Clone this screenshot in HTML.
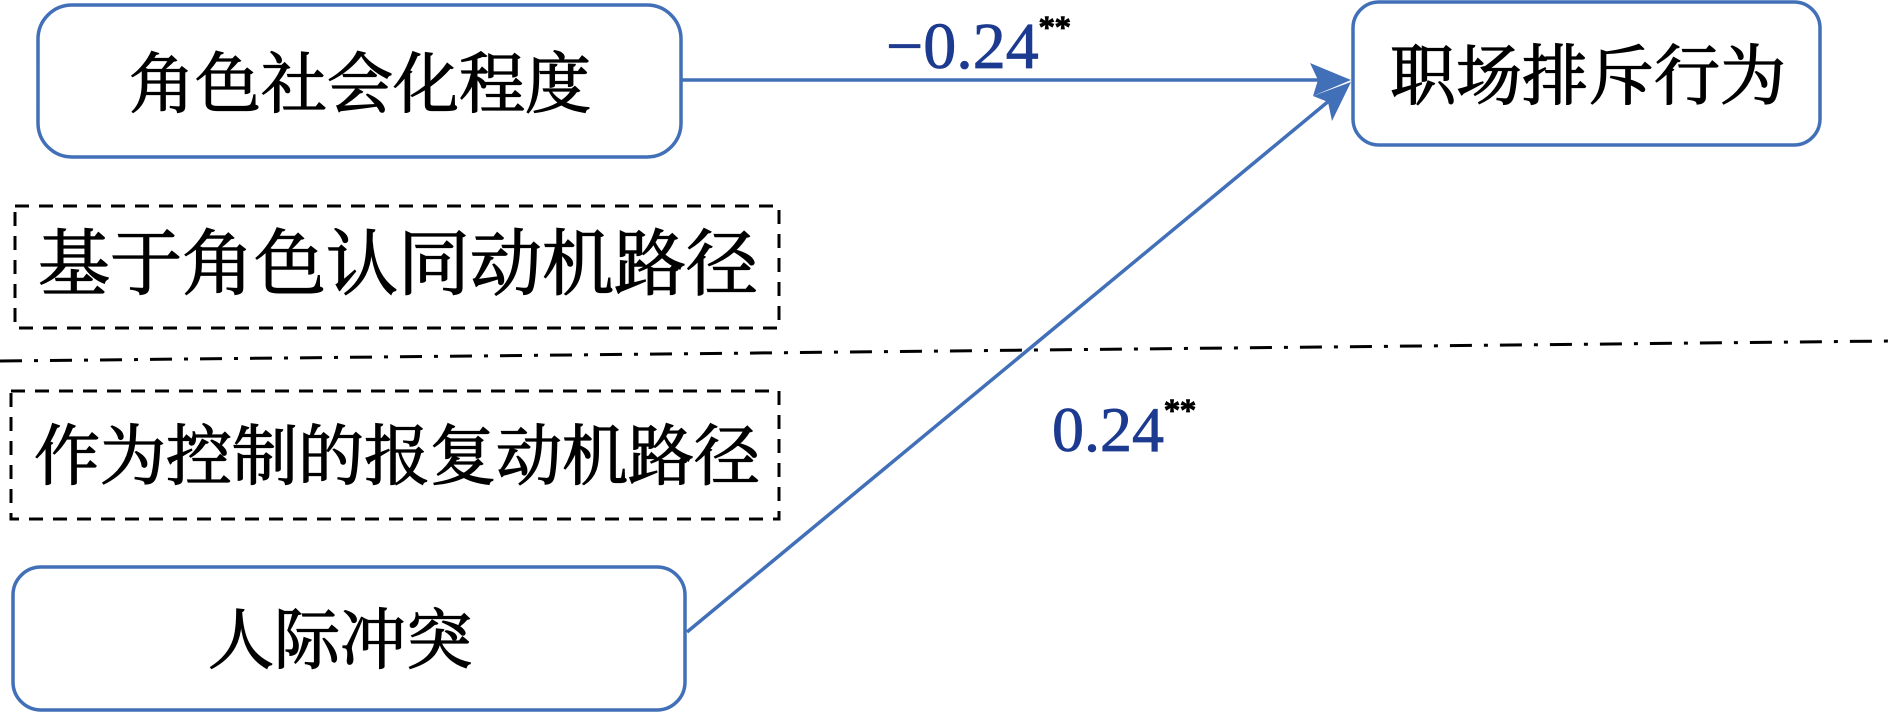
<!DOCTYPE html>
<html><head><meta charset="utf-8"><style>
html,body{margin:0;padding:0;background:#fff;}
svg{display:block;}
.cj{font-family:"Liberation Serif","Noto Serif CJK SC",serif;fill:#000;stroke:#000;stroke-width:1.3;}
.num{font-family:"Liberation Serif",serif;fill:#1c3a8f;stroke:#1c3a8f;stroke-width:0.8;}
</style></head><body>
<svg width="1890" height="712" viewBox="0 0 1890 712" xmlns="http://www.w3.org/2000/svg">
<!-- boxes -->
<rect x="38" y="5" width="643" height="152" rx="34" fill="#fff" stroke="#4170b8" stroke-width="3.5"/>
<rect x="1353" y="2" width="467" height="143" rx="26" fill="#fff" stroke="#4170b8" stroke-width="3.5"/>
<rect x="13" y="567" width="672" height="143" rx="28" fill="#fff" stroke="#4170b8" stroke-width="3.5"/>
<rect x="15" y="206" width="764" height="122" fill="none" stroke="#000" stroke-width="3" stroke-dasharray="14,10"/>
<rect x="11" y="391" width="768" height="128" fill="none" stroke="#000" stroke-width="3" stroke-dasharray="14,10"/>
<!-- dash-dot line -->
<line x1="0" y1="361" x2="1890" y2="341" stroke="#000" stroke-width="3" stroke-dasharray="22,12,4,12"/>
<!-- connectors -->
<line x1="681" y1="80" x2="1330" y2="80" stroke="#4170b8" stroke-width="3.5"/>
<line x1="687" y1="632" x2="1330" y2="100" stroke="#4170b8" stroke-width="3.5"/>
<polygon points="1351,80 1310,63 1318,80 1313,96" fill="#4170b8"/>
<polygon points="1351,82 1313,96 1328,102 1332,121" fill="#4170b8"/>
<!-- text -->
<text class="cj" x="360" y="107" font-size="66" text-anchor="middle">角色社会化程度</text>
<text class="cj" x="1588" y="99" font-size="66" text-anchor="middle">职场排斥行为</text>
<text class="cj" x="398" y="289" font-size="72" text-anchor="middle">基于角色认同动机路径</text>
<text class="cj" x="397" y="479" font-size="66" text-anchor="middle">作为控制的报复动机路径</text>
<text class="cj" x="340" y="663" font-size="66" text-anchor="middle">人际冲突</text>
<text class="num" x="886" y="68" font-size="66">−0.24<tspan font-size="32" dy="-30" fill="#000" stroke="#000" stroke-width="1.5">**</tspan></text>
<text class="num" x="1052" y="451" font-size="64">0.24<tspan font-size="32" dy="-30" fill="#000" stroke="#000" stroke-width="1.5">**</tspan></text>
</svg>
</body></html>
